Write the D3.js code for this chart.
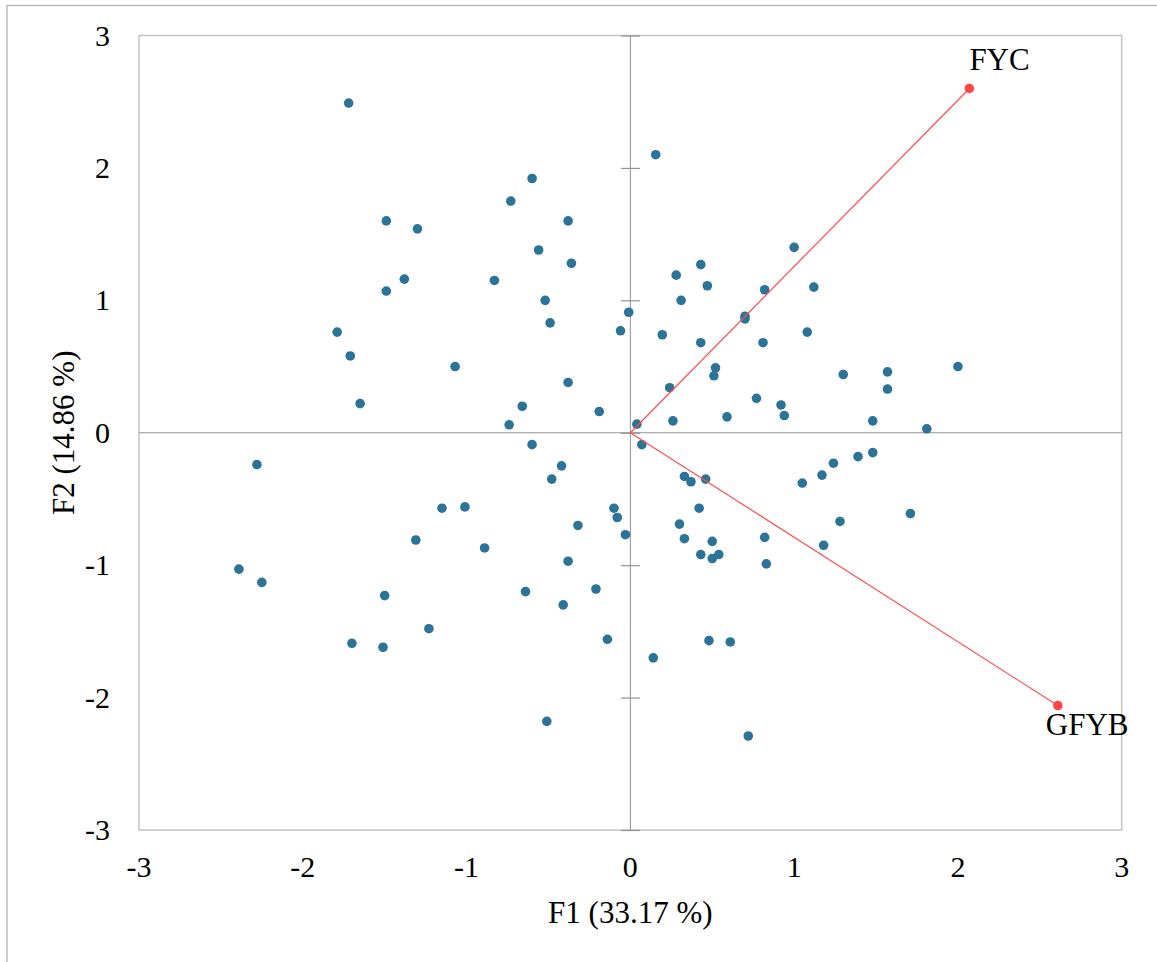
<!DOCTYPE html>
<html>
<head>
<meta charset="utf-8">
<script src="https://cdn.jsdelivr.net/npm/d3@7"></script>
<style>
  body { margin: 0; background: #fff; }
  svg { display: block; }
  svg text { font-family: "Liberation Serif", "DejaVu Serif", serif; fill: #000; }
</style>
</head>
<body>
<div id="biplot"></div>
<script>
// observations (F1, F2 scores)
let obsF1 = [-1.72, -1.49, -1.30, -1.38, -1.49, -1.79, -1.71, -1.65, -2.28, -2.39,
             -2.25, -1.50, -1.70, -1.51, -1.23, -1.31, -1.15, -1.01, -0.89, -1.07,
             -0.83, -0.73, -0.60, -0.56, -0.38, -0.36, -0.52, -0.49, -0.38, -0.01,
             -0.06, -0.66, -0.74, -0.19, 0.04, -0.60, 0.07, -0.42, -0.48, -0.32,
             -0.10, -0.08, -0.03, -0.38, -0.64, -0.41, -0.21, -0.14, -0.51, 0.14,
             0.155, 0.28, 0.43, 0.31, 0.47, 0.195, 0.43, 0.52, 0.51, 0.24,
             0.26, 0.59, 0.70, 0.70, 0.82, 1.00, 1.12, 0.81, 1.08, 0.77,
             0.92, 0.94, 1.30, 1.57, 1.57, 2.00, 1.48, 1.81, 1.48, 1.39,
             1.24, 1.17, 1.05, 1.71, 1.28, 1.18, 0.82, 0.83, 0.33, 0.37,
             0.46, 0.42, 0.30, 0.33, 0.50, 0.43, 0.50, 0.54, 0.48, 0.61, 0.72]
let obsF2 = [2.49, 1.60, 1.54, 1.16, 1.07, 0.76, 0.58, 0.22, -0.24, -1.03,
             -1.13, -1.23, -1.59, -1.62, -1.48, -0.81, -0.57, -0.56, -0.87, 0.50,
             1.15, 1.75, 1.92, 1.38, 1.60, 1.28, 1.00, 0.83, 0.38, 0.91,
             0.77, 0.20, 0.06, 0.16, 0.065, -0.09, -0.09, -0.25, -0.35, -0.70,
             -0.57, -0.64, -0.77, -0.97, -1.20, -1.30, -1.18, -1.56, -2.18, -1.70,
             2.10, 1.19, 1.27, 1.00, 1.11, 0.74, 0.68, 0.49, 0.43, 0.34,
             0.09, 0.12, 0.88, 0.86, 1.08, 1.40, 1.10, 0.68, 0.76, 0.26,
             0.21, 0.13, 0.44, 0.46, 0.33, 0.50, 0.09, 0.03, -0.15, -0.18,
             -0.23, -0.32, -0.38, -0.61, -0.67, -0.85, -0.79, -0.99, -0.33, -0.37,
             -0.35, -0.57, -0.69, -0.80, -0.82, -0.92, -0.95, -0.92, -1.57, -1.58, -2.29]

// variables
let varNames = ["FYC", "GFYB"]
let varF1 = [2.07, 2.61]
let varF2 = [2.60, -2.06]

let ticks = [-3, -2, -1, 0, 1, 2, 3]
let xTitle = "F1 (33.17 %)"
let yTitle = "F2 (14.86 %)"

let width = 1157, height = 962;
let margin = ({top: 35.5, right: 35.3, bottom: 132, left: 139});

let svg = d3.select("#biplot").append("svg")
            .attr("width", width)
            .attr("height", height);

// outer chart frame
svg.append("rect")
    .attr("x", 7).attr("y", 5.5)
    .attr("width", width + 20).attr("height", height + 20)
    .attr("fill", "none")
    .attr("stroke", "#b3b3b3")
    .attr("stroke-width", 1.3);

let x = d3.scaleLinear()
        .domain([-3, 3])
        .range([margin.left, width - margin.right]);

let y = d3.scaleLinear()
        .domain([-3, 3])
        .range([height - margin.bottom, margin.top]);

// plot area border
svg.append("rect")
    .attr("x", x(-3)).attr("y", y(3))
    .attr("width", x(3) - x(-3)).attr("height", y(-3) - y(3))
    .attr("fill", "none")
    .attr("stroke", "#c3c3c3")
    .attr("stroke-width", 1.5);

// zero axes
svg.append("line")
    .attr("x1", x(-3)).attr("x2", x(3))
    .attr("y1", y(0)).attr("y2", y(0))
    .attr("stroke", "#929292").attr("stroke-width", 1);

// cross ticks on the vertical axis
let yAxis = d3.axisLeft(y)
    .tickValues(ticks)
    .tickSizeInner(-19)
    .tickSizeOuter(0)
    .tickFormat("");

svg.append("g")
    .attr("transform", `translate(${x(0) - 9.5},0)`)
    .call(yAxis)
    .call(g => g.select(".domain").remove())
    .call(g => g.selectAll(".tick line").attr("stroke", "#929292").attr("stroke-width", 1.2));

svg.append("line")
    .attr("x1", x(0)).attr("x2", x(0))
    .attr("y1", y(3)).attr("y2", y(-3))
    .attr("stroke", "#929292").attr("stroke-width", 1);

// tick labels
svg.append("g")
    .selectAll("text")
    .data(ticks)
    .join("text")
    .attr("x", d => x(d))
    .attr("y", y(-3) + 47)
    .attr("text-anchor", "middle")
    .attr("font-size", 30)
    .text(d => d);

svg.append("g")
    .selectAll("text")
    .data(ticks)
    .join("text")
    .attr("x", 110)
    .attr("y", d => y(d) + 10)
    .attr("text-anchor", "end")
    .attr("font-size", 30)
    .text(d => d);

// axis titles
svg.append("text")
    .attr("x", x(0))
    .attr("y", 923)
    .attr("text-anchor", "middle")
    .attr("font-size", 31)
    .text(xTitle);

svg.append("text")
    .attr("transform", `translate(74,${y(0)}) rotate(-90)`)
    .attr("text-anchor", "middle")
    .attr("font-size", 31)
    .text(yTitle);

// observations
let obs = obsF1.map((d, i) => [d, obsF2[i]]);
svg.append("g")
    .selectAll("circle")
    .data(obs)
    .join("circle")
    .attr("cx", d => x(d[0]))
    .attr("cy", d => y(d[1]))
    .attr("r", 4.8)
    .attr("fill", "#2b7497");

// variable vectors
let vars = varNames.map((n, i) => ({name: n, f1: varF1[i], f2: varF2[i]}));

svg.append("g")
    .selectAll("line")
    .data(vars)
    .join("line")
    .attr("x1", x(0)).attr("y1", y(0))
    .attr("x2", d => x(d.f1)).attr("y2", d => y(d.f2))
    .attr("stroke", "#ff4d4d")
    .attr("stroke-width", 1.2);

svg.append("g")
    .selectAll("circle")
    .data(vars)
    .join("circle")
    .attr("cx", d => x(d.f1))
    .attr("cy", d => y(d.f2))
    .attr("r", 4.8)
    .attr("fill", "#ff4545");

svg.append("g")
    .selectAll("text")
    .data(vars)
    .join("text")
    .attr("x", d => x(d.f1) + (d.f2 > 0 ? 0 : -12))
    .attr("y", d => y(d.f2) + (d.f2 > 0 ? -18.5 : 29))
    .attr("font-size", 31)
    .text(d => d.name);
</script>
</body>
</html>
